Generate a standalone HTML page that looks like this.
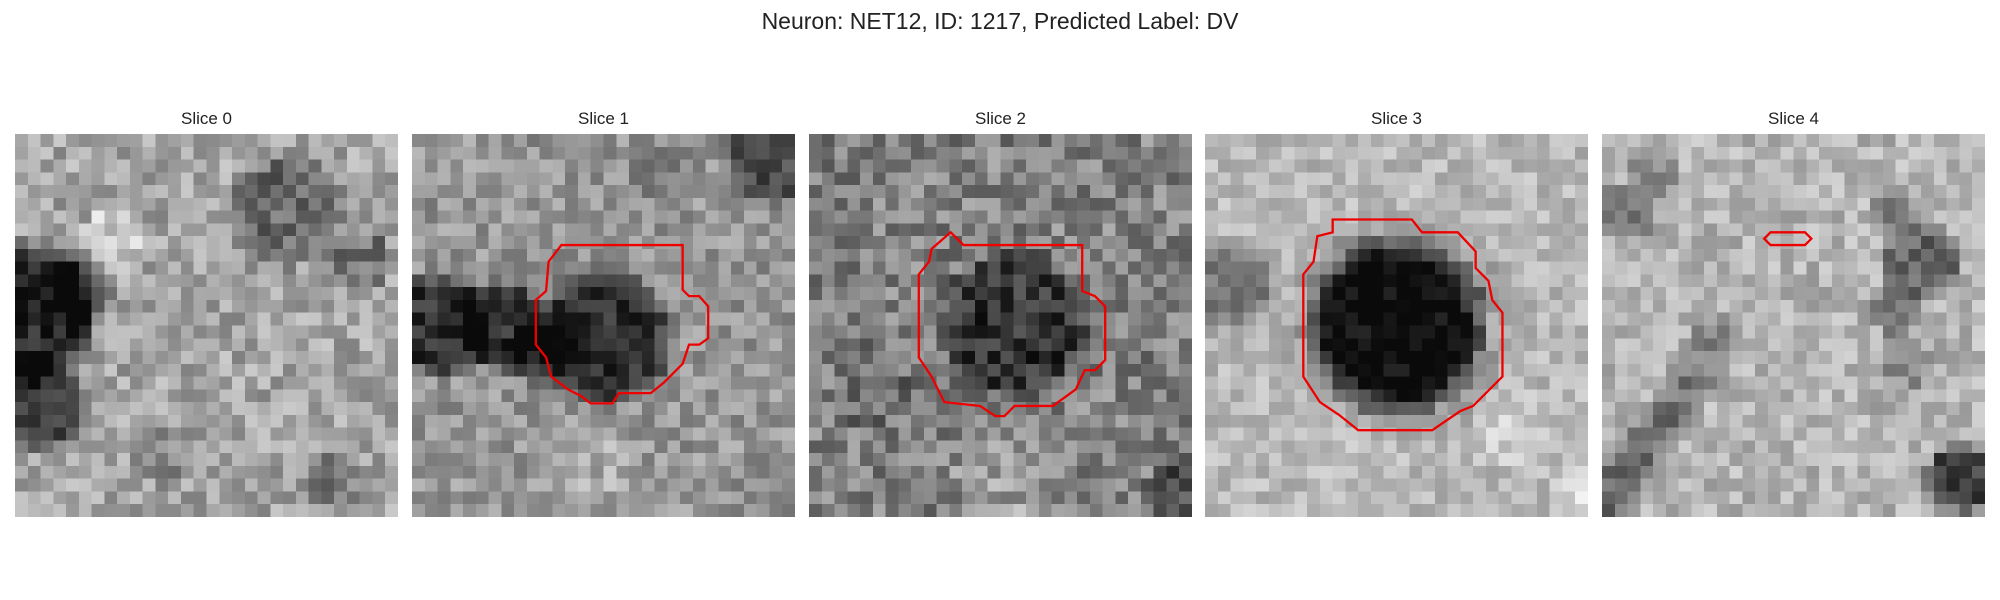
<!DOCTYPE html>
<html><head><meta charset="utf-8">
<style>
body{margin:0;background:#fff;width:2000px;height:600px;overflow:hidden;position:relative;font-family:"Liberation Sans","DejaVu Sans",sans-serif;}
.title{position:absolute;left:0;width:2000px;top:8px;text-align:center;font-size:23px;color:#222;}
.st{position:absolute;top:109px;width:383px;text-align:center;font-size:17px;color:#222;}
.panel{position:absolute;top:134px;width:383px;height:383px;}
.panel canvas{width:383px;height:383px;image-rendering:pixelated;position:absolute;left:0;top:0;}
.panel svg{position:absolute;left:0;top:0;}
</style></head><body>
<div class="title">Neuron: NET12, ID: 1217, Predicted Label: DV</div>
<div id="root"></div>
<script>
const sliceTitles = ["Slice 0","Slice 1","Slice 2","Slice 3","Slice 4"];
const baseGray = [165, 150, 130, 185, 180];
const noiseAmp = [38, 35, 45, 28, 32];
// blobs: [cx, cy, radius, delta]
const blobs0 = [[1,14,6,-130],[2,21,4,-100],[5,12,3,-60],[21,6,5,-60],[27,10,3,-50],[8,8,3,35],[25,27,3,-40],[12,25,3,-25]];
const blobs1 = [[15,16,6,-105],[2,15,4.5,-100],[7,15,4,-90],[10,17,3,-60],[28,2,4,-70],[20,3,3,-30],[14,26,4,20]];
const blobs2 = [[16,15,6.5,-80],[15,27,4,30],[29,28,3,-50],[5,20,4,-20]];
const blobs3 = [[15,15,7.5,-135],[15,15,9.5,-40],[2,12,4,-60],[23,12,2,-20],[29,28,2,30],[24,23,3,20]];
const blobs4 = [[25,10,3.5,-80],[23,6,2,-60],[23,14,2,-60],[24,18,2,-50],[1,28,2.5,-70],[3,25,2,-70],[5,22,2,-70],[7,19,2,-60],[9,16,2,-50],[28,27,3,-120],[2,6,2.5,-60],[4,3,2,-50]];
const blobSets = [blobs0, blobs1, blobs2, blobs3, blobs4];
const contour1 = [[117,87],[212,87],[212,122],[217,127],[225,127],[232,135],[232,160],[225,165],[217,165],[212,180],[197,195],[187,203],[162,203],[157,211],[140,211],[132,205],[122,200],[109,190],[105,175],[97,165],[97,130],[105,123],[107,100]];
const contour2 = [[111,77],[121,87],[214,87],[214,123],[224,127],[232,135],[232,177],[224,185],[216,185],[209,200],[191,213],[161,213],[153,221],[146,221],[134,213],[106,210],[101,200],[96,190],[86,175],[86,110],[94,100],[96,90]];
const contour3 = [[100,67],[162,67],[170,77],[198,77],[212,92],[212,105],[222,115],[225,130],[233,140],[233,190],[210,213],[200,217],[178,232],[120,232],[105,220],[90,210],[77,190],[77,110],[85,100],[88,80],[100,77]];
const contour4 = [[127,82],[132,77],[159,77],[164,82],[159,87],[132,87]];
const contours = [null, contour1, contour2, contour3, contour4];

const lefts = [15, 412, 809, 1205, 1602];
const root = document.getElementById('root');
function hash(i,j,k){let h=(i*374761393+j*668265263+k*2147483647)|0;h=(h^(h>>>13))*1274126177|0;h=h^(h>>>16);return ((h>>>0)%1000)/1000;}
for(let p=0;p<5;p++){
  const t=document.createElement('div');
  t.className='st';t.style.left=lefts[p]+'px';t.textContent=sliceTitles[p];
  
  
  root.appendChild(t);
  const d=document.createElement('div');
  d.className='panel';d.style.left=lefts[p]+'px';
  
  
  const c=document.createElement('canvas');c.width=30;c.height=30;
  const ctx=c.getContext('2d');
  for(let y=0;y<30;y++)for(let x=0;x<30;x++){
    let v=baseGray[p]+(hash(x,y,p+1)-0.5)*2*noiseAmp[p];
    for(const b of blobSets[p]){
      const dd=Math.hypot(x+0.5-b[0],y+0.5-b[1]);
      if(dd<b[2])v+=b[3]*(dd<b[2]*0.7?1:(b[2]-dd)/(b[2]*0.3));
    }
    v=Math.max(10,Math.min(250,Math.round(v)));
    ctx.fillStyle='rgb('+v+','+v+','+v+')';ctx.fillRect(x,y,1,1);
  }
  d.appendChild(c);
  if(contours[p]){
    const ns='http://www.w3.org/2000/svg';
    const s=document.createElementNS(ns,'svg');
    s.setAttribute('width','383');s.setAttribute('height','383');s.setAttribute('viewBox','0 0 300 300');
    const pg=document.createElementNS(ns,'polygon');
    pg.setAttribute('points',contours[p].map(q=>q[0]+','+q[1]).join(' '));
    pg.setAttribute('fill','none');pg.setAttribute('stroke','#e00');pg.setAttribute('stroke-width','1.8');
    
    
    s.appendChild(pg);d.appendChild(s);
  }
  root.appendChild(d);
}
</script>
</body></html>
